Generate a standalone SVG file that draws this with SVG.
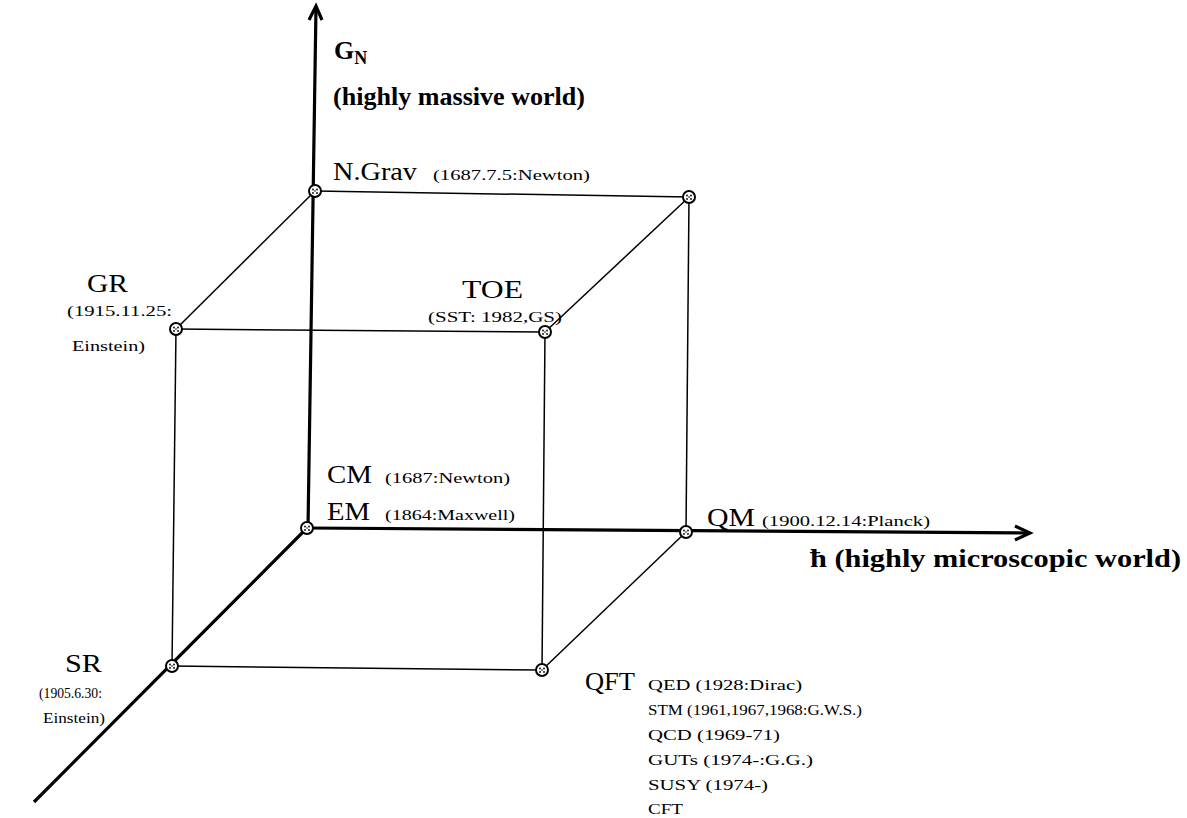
<svg xmlns="http://www.w3.org/2000/svg" width="1187" height="818" viewBox="0 0 1187 818">
<style>
text{font-family:"Liberation Serif","Times New Roman",serif;fill:#000}
.b{font-weight:bold;font-size:26px}
.l{font-size:25px}
.s{font-size:15px}
.thin{stroke:#000;stroke-width:1.5;fill:none}
.axis{stroke:#000;stroke-width:3.2;fill:none}
.nd{fill:#fff;stroke:#000;stroke-width:2}
.dt{fill:#000}
</style>
<defs>
<g id="node"><circle class="nd" r="6"/><circle class="dt" cx="-2" cy="-1.5" r="0.9"/><circle class="dt" cx="2" cy="-1.5" r="0.9"/><circle class="dt" cx="-2" cy="2" r="0.9"/><circle class="dt" cx="2" cy="2" r="0.9"/><circle class="dt" cx="0" cy="0" r="0.8"/></g>
</defs>
<g id="connectors">
<line class="axis" x1="308" y1="528" x2="316" y2="7"/>
<path class="axis" d="M309 20 L316 6 L322 20" stroke-width="2.5"/>
<line class="axis" x1="307" y1="528" x2="1028" y2="533"/>
<path class="axis" d="M1015 526 L1030 533 L1015 540" stroke-width="2.5"/>
<line class="axis" x1="307" y1="528" x2="34" y2="802" stroke-width="4"/>
<line class="thin" x1="315" y1="191" x2="689" y2="197"/>
<line class="thin" x1="315" y1="191" x2="176" y2="329"/>
<line class="thin" x1="689" y1="197" x2="545" y2="332"/>
<line class="thin" x1="176" y1="329" x2="545" y2="332"/>
<line class="thin" x1="176" y1="329" x2="172" y2="666"/>
<line class="thin" x1="545" y1="332" x2="542" y2="670"/>
<line class="thin" x1="689" y1="197" x2="686" y2="532"/>
<line class="thin" x1="172" y1="666" x2="542" y2="670"/>
<line class="thin" x1="686" y1="532" x2="542" y2="670"/>
</g>
<g id="axis-GN">
<text class="b" x="334" y="59">G<tspan font-size="18" dy="5">N</tspan></text>
<text class="b" x="333" y="105" textLength="252" lengthAdjust="spacingAndGlyphs">(highly massive world)</text>
</g>
<g id="axis-hbar">
<text class="b" x="810" y="567" textLength="371" lengthAdjust="spacingAndGlyphs">ħ (highly microscopic world)</text>
</g>
<g id="NGrav"><use href="#node" x="315" y="191"/>
<text class="l" x="333" y="180" textLength="84" lengthAdjust="spacingAndGlyphs">N.Grav</text>
<text class="s" x="433" y="180" textLength="157" lengthAdjust="spacingAndGlyphs">(1687.7.5:Newton)</text></g>
<g id="corner"><use href="#node" x="689" y="197"/></g>
<g id="GR"><use href="#node" x="176" y="329"/>
<text class="l" x="87" y="292" textLength="41" lengthAdjust="spacingAndGlyphs">GR</text>
<text class="s" x="67" y="316" textLength="105" lengthAdjust="spacingAndGlyphs">(1915.11.25:</text>
<text class="s" x="72" y="351" textLength="73" lengthAdjust="spacingAndGlyphs">Einstein)</text></g>
<g id="TOE"><use href="#node" x="545" y="332"/>
<text class="l" x="462" y="298" textLength="61" lengthAdjust="spacingAndGlyphs">TOE</text>
<text class="s" x="428" y="322" textLength="134" lengthAdjust="spacingAndGlyphs">(SST: 1982,GS)</text></g>
<g id="CMEM"><use href="#node" x="307" y="528"/>
<text class="l" x="327" y="483" textLength="45" lengthAdjust="spacingAndGlyphs">CM</text>
<text class="s" x="385" y="483" textLength="125" lengthAdjust="spacingAndGlyphs">(1687:Newton)</text>
<text class="l" x="327" y="520" textLength="43" lengthAdjust="spacingAndGlyphs">EM</text>
<text class="s" x="385" y="520" textLength="130" lengthAdjust="spacingAndGlyphs">(1864:Maxwell)</text></g>
<g id="QM"><use href="#node" x="686" y="532"/>
<text class="l" x="707" y="526" textLength="48" lengthAdjust="spacingAndGlyphs">QM</text>
<text class="s" x="762" y="526" textLength="168" lengthAdjust="spacingAndGlyphs">(1900.12.14:Planck)</text></g>
<g id="SR"><use href="#node" x="172" y="666"/>
<text class="l" x="65" y="672" textLength="37" lengthAdjust="spacingAndGlyphs">SR</text>
<text class="s" x="39" y="698" textLength="63" lengthAdjust="spacingAndGlyphs">(1905.6.30:</text>
<text class="s" x="43" y="723" textLength="62" lengthAdjust="spacingAndGlyphs">Einstein)</text></g>
<g id="QFT"><use href="#node" x="542" y="670"/>
<text class="l" x="585" y="690" textLength="50" lengthAdjust="spacingAndGlyphs">QFT</text>
<text class="s" x="648" y="690" textLength="154" lengthAdjust="spacingAndGlyphs">QED (1928:Dirac)</text>
<text class="s" x="648" y="715" textLength="214" lengthAdjust="spacingAndGlyphs">STM (1961,1967,1968:G.W.S.)</text>
<text class="s" x="648" y="740" textLength="132" lengthAdjust="spacingAndGlyphs">QCD (1969-71)</text>
<text class="s" x="648" y="765" textLength="165" lengthAdjust="spacingAndGlyphs">GUTs (1974-:G.G.)</text>
<text class="s" x="648" y="790" textLength="120" lengthAdjust="spacingAndGlyphs">SUSY (1974-)</text>
<text class="s" x="648" y="814" textLength="35" lengthAdjust="spacingAndGlyphs">CFT</text></g>
</svg>
